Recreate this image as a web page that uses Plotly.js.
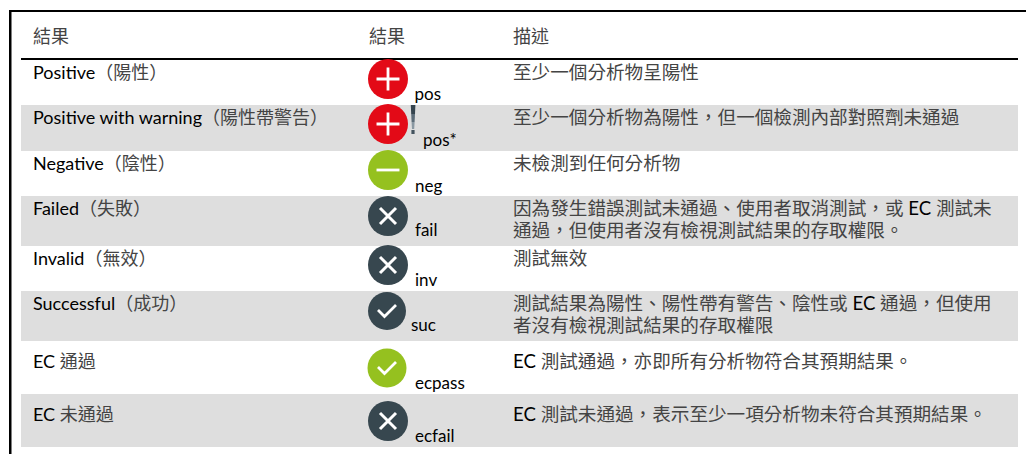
<!DOCTYPE html>
<html><head><meta charset="utf-8">
<script src="https://cdn.plot.ly/plotly-3.0.1.min.js"></script>
<style>html,body{margin:0;padding:0;background:#fff}#c{width:1026px;height:454px}</style>
</head><body><div id="c"></div>
<script>
// --- content ---
const headers = ['結果', '結果', '描述'];
const results = ['Positive\uFF08陽性\uFF09', 'Positive with warning\uFF08陽性帶警告\uFF09', 'Negative\uFF08陰性\uFF09', 'Failed\uFF08失敗\uFF09',
  'Invalid\uFF08無效\uFF09', 'Successful\uFF08成功\uFF09', 'EC 通過', 'EC 未通過'];
const codes = ['pos', 'pos*', 'neg', 'fail', 'inv', 'suc', 'ecpass', 'ecfail'];
const icons = ['plus', 'plus', 'minus', 'cross', 'cross', 'check', 'check', 'cross'];
const iconTone = ['red', 'red', 'green', 'slate', 'slate', 'slate', 'green', 'slate'];
const descriptions = [
  ['至少一個分析物呈陽性'],
  ['至少一個分析物為陽性\uFF0C但一個檢測內部對照劑未通過'],
  ['未檢測到任何分析物'],
  ['因為發生錯誤測試未通過、使用者取消測試\uFF0C或 EC 測試未', '通過\uFF0C但使用者沒有檢視測試結果的存取權限。'],
  ['測試無效'],
  ['測試結果為陽性、陽性帶有警告、陰性或 EC 通過\uFF0C但使用', '者沒有檢視測試結果的存取權限'],
  ['EC 測試通過\uFF0C亦即所有分析物符合其預期結果。'],
  ['EC 測試未通過\uFF0C表示至少一項分析物未符合其預期結果。']
];

// --- page geometry (pixel-mapped axes) ---
const rowEdges = [60, 105, 151, 196, 246, 291, 341, 394, 447];
const iconY = [79, 124, 170, 216, 265, 311, 368, 421];
const iconSize = [40, 40, 40, 40, 40, 38, 39, 40];
const iconXs = [388, 388, 388, 388, 388, 387, 387, 388];
const labelY = [74, 119, 165, 210, 260, 305, 363, 416];
const codeX = [414.5, 423, 415, 415, 415, 411, 415, 415];
const codeY = [96, 142, 188, 232, 282, 327, 385, 438];
const descLineGap = 22;
const colX = [33, 369, 513];
const tones = {red: '#e30a17', green: '#95c11f', slate: '#37474f'};
const CJKCOLOR = '#444444';
const FAMILY = 'Lato, "Noto Sans CJK TC", sans-serif';

const tint = s => s.replace(/([^\x00-\x7f]+)/g, '<span style="color:' + CJKCOLOR + '">$1</span>');

const shapes = [];
const addRect = (x0, x1, y0, y1, c) => shapes.push({type: 'rect', xref: 'x', yref: 'y', x0, x1, y0, y1,
  fillcolor: c, line: {width: 0}, layer: 'below'});
for (let i = 1; i < 8; i += 2) addRect(21, 1018, rowEdges[i], rowEdges[i + 1], '#dedede');
addRect(9, 11.5, 10, 454, '#000');
addRect(9, 1026, 10, 12, '#000');
addRect(21, 1018, 58, 60, '#000');

// exclamation mark next to the warning icon
const bang = (x0, x1, x2, x3, y0, y1, c) => shapes.push({type: 'path', xref: 'x', yref: 'y', layer: 'above',
  path: `M${x0},${y0}L${x1},${y0}L${x2},${y1}L${x3},${y1}Z`, fillcolor: c, line: {width: 0}});
bang(410.8, 415.4, 415, 411.2, 105, 114, '#36454f');
bang(411.2, 415, 414.6, 411.6, 114, 122, '#5c6c78');
bang(411.6, 414.6, 414.2, 412, 122, 129, '#8a98a2');
bang(411.4, 414.6, 414.6, 411.4, 130, 134, '#44545f');

const iconXArr = iconXs;
const circleTrace = {type: 'scatter', mode: 'markers', x: iconXArr, y: iconY, hoverinfo: 'skip',
  marker: {symbol: 'circle', size: iconSize, opacity: 1, color: iconTone.map(t => tones[t]), line: {width: 0}}};

const pick = name => icons.map((n, i) => n === name ? i : -1).filter(i => i >= 0);
const glyph = (name, symbol, size, w) => {
  const ids = pick(name);
  return {type: 'scatter', mode: 'markers', hoverinfo: 'skip', x: ids.map(i => iconXArr[i]), y: ids.map(i => iconY[i]),
    marker: {symbol, size, opacity: 1, color: 'rgba(0,0,0,0)', line: {color: '#fff', width: w}}};
};
const chkX = [], chkY = [];
pick('check').forEach(i => {
  [-9, -2.5, 9].forEach(d => chkX.push(iconXArr[i] + d));
  [-1, 5.5, -6].forEach(d => chkY.push(iconY[i] + d));
  chkX.push(null); chkY.push(null);
});
const checkTrace = {type: 'scatter', mode: 'lines', hoverinfo: 'skip', x: chkX, y: chkY,
  line: {color: '#fff', width: 2.8}};

const textTrace = (x, y, text, size) => ({type: 'scatter', mode: 'text', x, y, text, hoverinfo: 'skip',
  textposition: 'middle right', cliponaxis: false, textfont: {family: FAMILY, size, color: '#000'}});

const descX = [], descY = [], descT = [];
descriptions.forEach((lines, i) => lines.forEach((s, j) => {
  descX.push(colX[2]); descY.push(labelY[i] + j * descLineGap); descT.push(tint(s));
}));

const traces = [
  circleTrace,
  glyph('plus', 'cross-thin', 16.4, 2.8),
  glyph('minus', 'line-ew', 16.4, 2.8),
  glyph('cross', 'x-thin', 16, 3),
  checkTrace,
  textTrace(colX, [38, 38, 38], headers.map(tint), 18),
  textTrace(results.map(() => colX[0]), labelY, results.map(tint), 18),
  textTrace(codeX, codeY, codes, 17),
  textTrace(descX, descY, descT, 18.6)
];

Plotly.newPlot('c', traces, {
  width: 1026, height: 454, margin: {l: 0, r: 0, t: 0, b: 0, pad: 0},
  paper_bgcolor: '#fff', plot_bgcolor: '#fff', showlegend: false, shapes,
  xaxis: {range: [0, 1026], visible: false, fixedrange: true},
  yaxis: {range: [454, 0], visible: false, fixedrange: true}
}, {displayModeBar: false, staticPlot: true});
</script></body></html>
